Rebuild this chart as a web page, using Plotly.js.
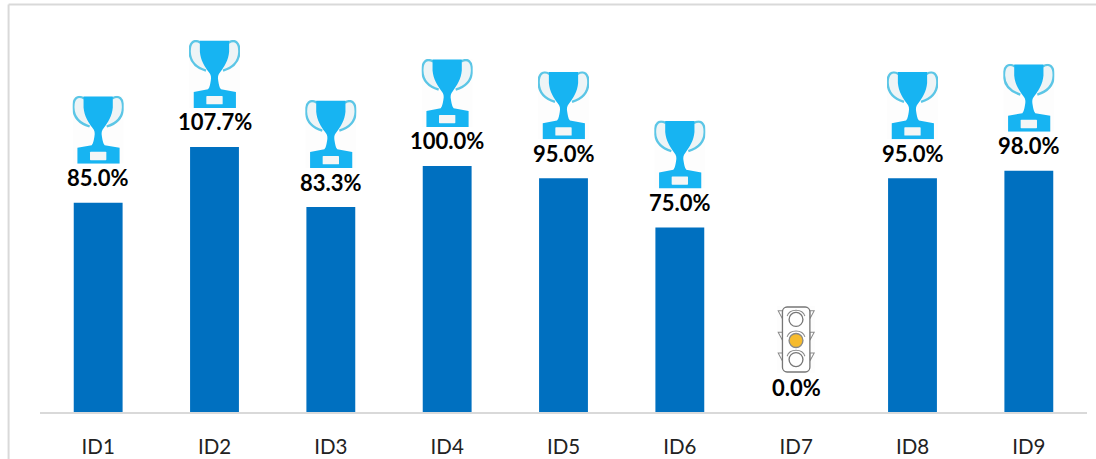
<!DOCTYPE html>
<html><head><meta charset="utf-8">
<script src="https://cdn.plot.ly/plotly-3.0.1.min.js"></script>
<style>html,body{margin:0;padding:0;background:#fff;overflow:hidden}#c{width:1096px;height:459px}</style>
</head><body><div id="c"></div>
<script>
const categories = ["ID1","ID2","ID3","ID4","ID5","ID6","ID7","ID8","ID9"];
const values = [85.0,107.7,83.3,100.0,95.0,75.0,0.0,95.0,98.0];
const labels = ["85.0%","107.7%","83.3%","100.0%","95.0%","75.0%","0.0%","95.0%","98.0%"];
const icons = ["trophy","trophy","trophy","trophy","trophy","trophy","light","trophy","trophy"];

const trophySvg = `<svg xmlns="http://www.w3.org/2000/svg" viewBox="0 0 150 204" preserveAspectRatio="none">
<rect width="150" height="204" fill="#fdfdfd"/>
<path d="M34 8C14 -4 1 8 2 36C3 62 18 82 50 92" fill="#eef4f6" stroke="#5cc6e6" stroke-width="7"/>
<path d="M116 8C136 -4 149 8 148 36C147 62 132 82 100 92" fill="#eef4f6" stroke="#5cc6e6" stroke-width="7"/>
<path d="M32 2H118V35C116 60 104 80 92 96C85 104 84 112 86 122C88 132 88 140 94 148L138 156V204H14V156L56 148C62 140 62 132 64 122C66 112 65 104 58 96C46 80 34 60 32 35Z" fill="#17b4f2"/>
<rect x="51" y="168" width="48" height="25" rx="2" fill="#f4f6f6"/></svg>`;
const lightSvg = `<svg xmlns="http://www.w3.org/2000/svg" viewBox="0 0 115 200" preserveAspectRatio="none">
<rect width="115" height="200" fill="#fdfdfd"/>
<g fill="#fff" stroke="#8a8a8a" stroke-width="3">
<path d="M16 14H3L16 38Z"/><path d="M99 14H112L99 38Z"/>
<path d="M16 78H3L16 102Z"/><path d="M99 78H112L99 102Z"/>
<path d="M16 140H3L16 164Z"/><path d="M99 140H112L99 164Z"/>
<rect x="16" y="3" width="83" height="194" rx="14" stroke="#777" stroke-width="4"/>
<path d="M30 30A28 24 0 0 1 84 30" fill="none"/><path d="M30 92A28 24 0 0 1 84 92" fill="none"/><path d="M30 150A28 24 0 0 1 84 150" fill="none"/>
<circle cx="57" cy="40" r="21" stroke-width="4" stroke="#777"/>
<circle cx="57" cy="103" r="21" fill="#f6bb2d" stroke-width="4" stroke="#888"/>
<circle cx="57" cy="160" r="21" stroke-width="4" stroke="#777"/></g></svg>`;
const uri = s => "data:image/svg+xml;base64," + btoa(s);

const W = 1096, H = 459, L = 40.4, R = 9, T = 5, B = 47;
const plotW = W - L - R, plotH = H - T - B;
const yMax = 165.4;
const catPx = plotW / categories.length, valPx = plotH / yMax;
const xRange = [-0.5, 8.5];

const images = categories.map((c, i) => {
  const tr = icons[i] === "trophy";
  const w = tr ? 51 : 38, h = tr ? 68 : 67;
  return {source: uri(tr ? trophySvg : lightSvg), xref: "x", yref: "y", x: i, y: values[i] + 39 / valPx,
    sizex: w / catPx, sizey: h / valPx, xanchor: "center", yanchor: "bottom", sizing: "stretch", layer: "above"};
});

const annotations = categories.map((c, i) => ({
  x: i, y: values[i], xref: "x", yref: "y", text: labels[i], showarrow: false, yshift: 25, yanchor: "middle",
  font: {family: "Lato, 'Open Sans', sans-serif", size: 22, color: "#000", weight: 700}
}));
[["(", 481], [")", 726]].forEach(p => annotations.push({
  xref: "paper", yref: "paper", x: (p[1] - L) / plotW, y: 1, yshift: 5, yanchor: "bottom", xanchor: "center",
  text: p[0], showarrow: false, font: {family: "Lato, sans-serif", size: 26, color: "#222"}
}));

Plotly.newPlot("c", [{
  type: "bar", x: categories.map((c, i) => i), y: values, marker: {color: "#0070c0", line: {width: 0}},
  width: 0.42, hoverinfo: "skip"
}], {
  width: W, height: H, paper_bgcolor: "#fff", plot_bgcolor: "#fff", showlegend: false,
  margin: {l: L, r: R, t: T, b: B, pad: 0},
  xaxis: {type: "linear", range: xRange, tickmode: "array", tickvals: categories.map((c, i) => i), ticktext: categories,
    showgrid: false, zeroline: false, showline: true, linecolor: "#d9d9d9", linewidth: 2, ticks: "", ticklabelstandoff: 15,
    tickfont: {family: "Lato, sans-serif", size: 20.5, color: "#222"}},
  yaxis: {range: [0, yMax], visible: false, fixedrange: true},
  images, annotations,
  shapes: [
    {type: "line", xref: "paper", yref: "paper", x0: (9 - L) / plotW, x1: (W - L) / plotW, y0: 1 + (T - 4.5) / plotH, y1: 1 + (T - 4.5) / plotH, line: {color: "#d9d9d9", width: 2}},
    {type: "line", xref: "paper", yref: "paper", x0: (9 - L) / plotW, x1: (9 - L) / plotW, y0: 1 + (T - 4.5) / plotH, y1: -B / plotH, line: {color: "#d9d9d9", width: 2}}
  ]
}, {displayModeBar: false, staticPlot: true});
</script></body></html>
